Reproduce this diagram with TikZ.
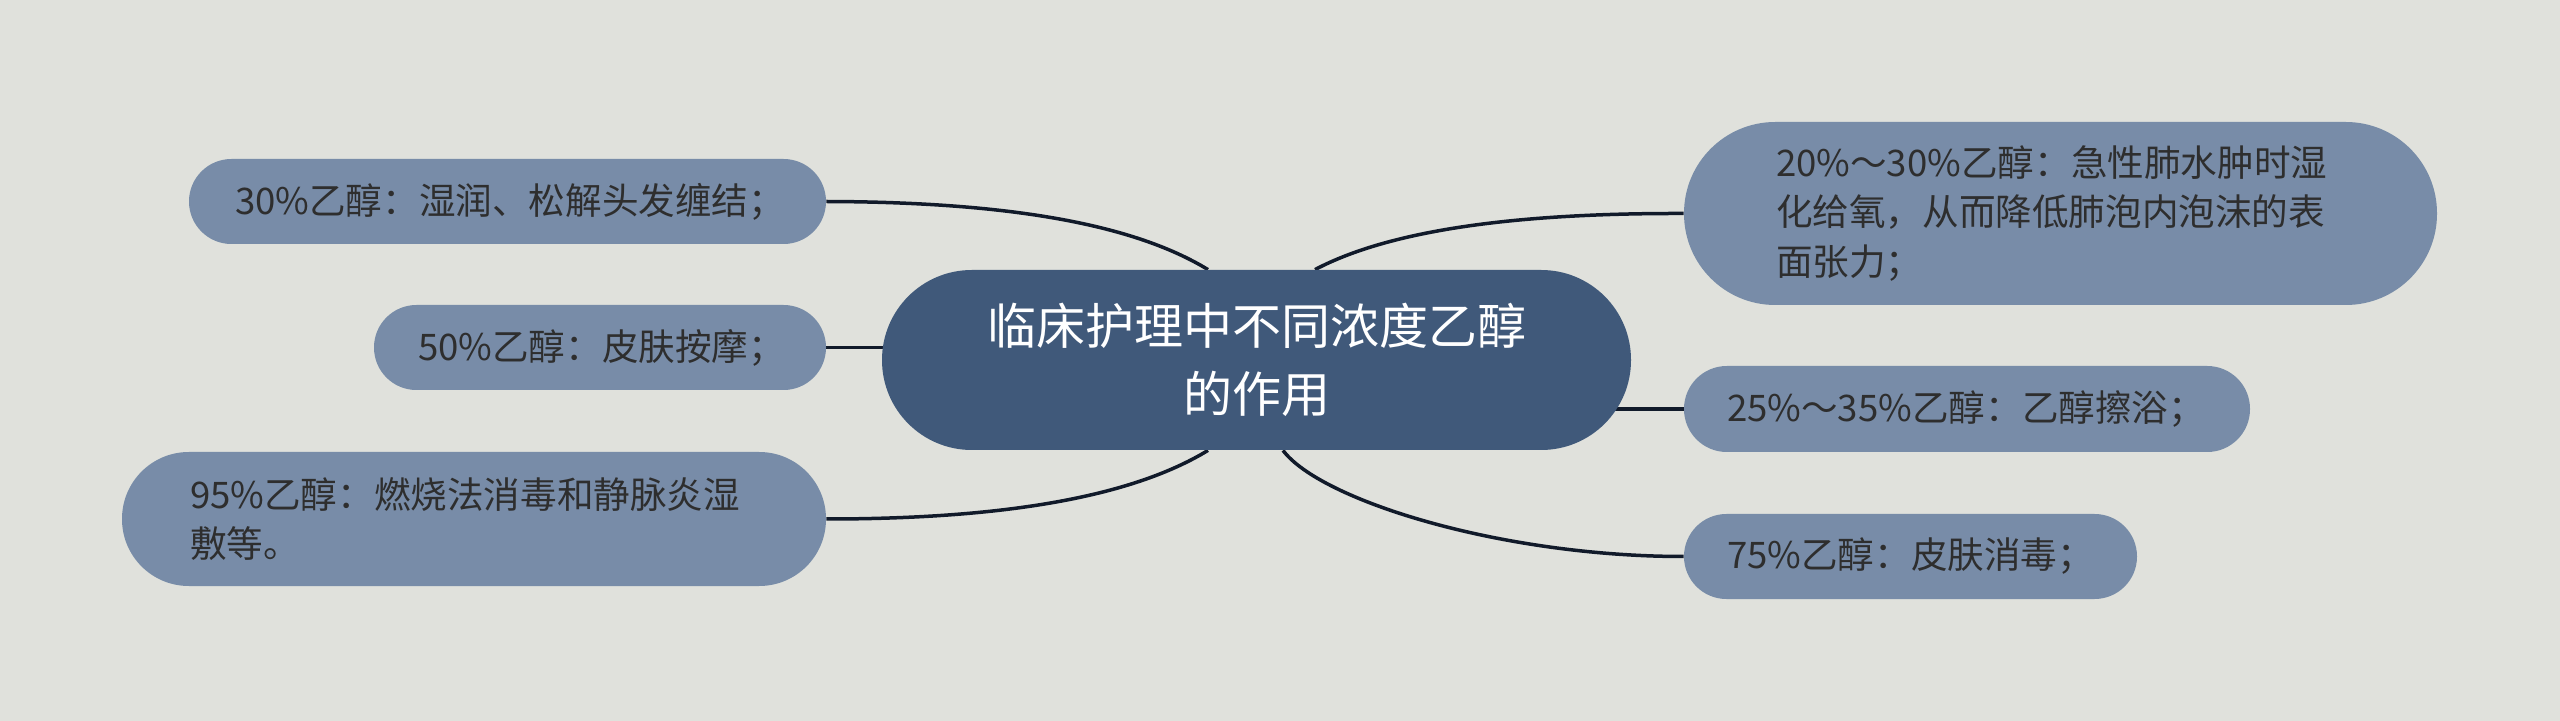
\documentclass[tikz,border=0pt]{standalone}
\usepackage{fontspec}
\setmainfont{Noto Sans CJK SC}
\usetikzlibrary{backgrounds}
\definecolor{bgc}{HTML}{E0E1DC}
\definecolor{leaffill}{HTML}{788CA8}
\definecolor{rootfill}{HTML}{40597A}
\definecolor{linec}{HTML}{111A2A}
\definecolor{leaftext}{HTML}{2E2E2E}
\tikzset{
  leaf/.style={fill=leaffill, text=leaftext, inner ysep=0pt, align=left,
    font=\fontsize{18.3pt}{24.75pt}\selectfont},
  rootbox/.style={fill=rootfill, text=white, inner sep=0pt, align=center,
    minimum width=374.5pt, minimum height=90pt, rounded corners=44.9pt,
    font=\fontsize{24.5pt}{34pt}\selectfont},
  conn/.style={draw=linec, line width=1.75pt}
}
\begin{document}
\begin{tikzpicture}[x=0.5pt,y=-0.5pt]
\useasboundingbox (0,0) rectangle (2560,721);
\node[rootbox] (c) at (1256.5,360) {临床护理中不同浓度乙醇\\的作用};
\node[leaf, minimum width=318.5pt, minimum height=42.5pt, rounded corners=21.2pt, inner xsep=23pt, text width=272.5pt] (l30) at (507.5,201.5) {30\%乙醇：湿润、松解头发缠结；};
\node[leaf, minimum width=226pt, minimum height=42.5pt, rounded corners=21.2pt, inner xsep=22pt, text width=182pt] (l50) at (600,347.5) {50\%乙醇：皮肤按摩；};
\node[leaf, minimum width=352pt, minimum height=67pt, rounded corners=33.4pt, inner xsep=34pt, text width=284pt] (l95) at (474,519) {95\%乙醇：燃烧法消毒和静脉炎湿\\敷等。};
\node[leaf, minimum width=376.5pt, minimum height=91.5pt, rounded corners=45.6pt, inner xsep=46pt, text width=284.5pt] (r20) at (2060.5,213.5) {20\%～30\%乙醇：急性肺水肿时湿\\化给氧，从而降低肺泡内泡沫的表\\面张力；};
\node[leaf, minimum width=283pt, minimum height=43pt, rounded corners=21.4pt, inner xsep=21.5pt, text width=240pt] (r25) at (1967,409) {25\%～35\%乙醇：乙醇擦浴；};
\node[leaf, minimum width=226.5pt, minimum height=42.5pt, rounded corners=21.2pt, inner xsep=21.5pt, text width=183.5pt] (r75) at (1910.5,556.5) {75\%乙醇：皮肤消毒；};
\begin{scope}[on background layer]
\fill[bgc] (0,0) rectangle (2560,721);
\draw[conn] (l30.east) .. controls (1000,202) and (1130,222) .. ([xshift=-24.25pt]c.north);
\draw[conn] (l95.east) .. controls (1000,519) and (1130,498) .. ([xshift=-24.25pt]c.south);
\draw[conn] ([xshift=29.25pt]c.north) .. controls (1390,230) and (1516,213) .. (r20.west);
\draw[conn] ([xshift=13.25pt]c.south) .. controls (1320,500) and (1500,556.5) .. (r75.west);
\draw[conn] (l50.east) -- ([xshift=10pt]l50.east -| c.west);
\draw[conn] ([xshift=-15pt]r25.west -| c.east) -- (r25.west);
\end{scope}
\end{tikzpicture}
\end{document}
